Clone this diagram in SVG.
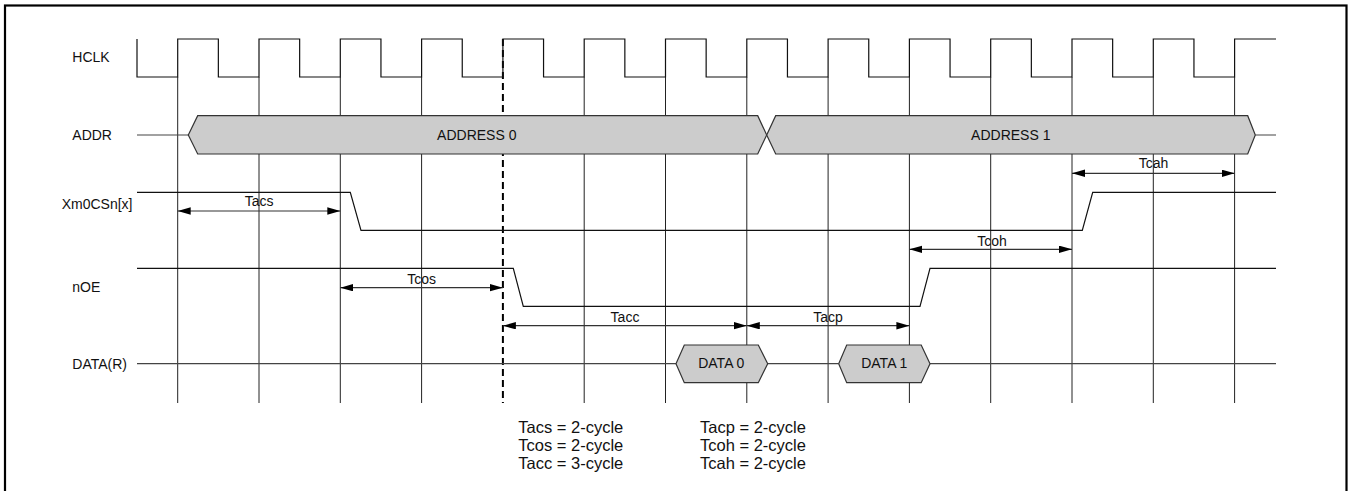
<svg xmlns="http://www.w3.org/2000/svg" width="1354" height="491" viewBox="0 0 1354 491">
<style>
text{font-family:"Liberation Sans",Arial,sans-serif;fill:#111}
.lbl{font-size:14px}
.tl{font-size:14px;text-anchor:middle}
.bus{font-size:14px;text-anchor:middle}
.note{font-size:16.5px}
.grid{stroke:#222;stroke-width:1;fill:none}
.sig{stroke:#111;stroke-width:1.2;fill:none}
.wire{stroke:#444;stroke-width:1.2;fill:none}
.hex{fill:#cccccc;stroke:#333;stroke-width:1.2}
.arr{stroke:#333;stroke-width:1.2;fill:none;marker-start:url(#ah);marker-end:url(#ah)}
</style>
<defs>
<marker id="ah" markerUnits="userSpaceOnUse" markerWidth="14" markerHeight="8" refX="13" refY="3.7" orient="auto-start-reverse">
<path d="M0,0 L13,3.7 L0,7.4 Z" fill="#000"/>
</marker>
</defs>
<rect x="5" y="5.5" width="1341.5" height="490" fill="none" stroke="#000" stroke-width="2.2"/>
<g id="grid">
<path class="grid" d="M177.7,77V403 M259,77V403 M340.3,77V403 M421.6,77V403 M584.2,77V403 M665.5,77V403 M746.8,77V403 M828.1,77V403 M909.4,77V403 M990.7,77V403 M1072,77V403 M1153.3,77V403 M1234.6,77V403"/>
</g>
<g id="marker-line">
<path d="M502.9,39 V403" stroke="#000" stroke-width="2" stroke-dasharray="7 4" fill="none"/>
</g>
<g id="hclk">
<text class="lbl" x="72.3" y="62.3">HCLK</text>
<path class="sig" d="M137,39 V77 H177.7 V39 H218.35 V77 H259 V39 H299.65 V77 H340.3 V39 H380.95 V77 H421.6 V39 H462.25 V77 H502.9 V39 H543.55 V77 H584.2 V39 H624.85 V77 H665.5 V39 H706.15 V77 H746.8 V39 H787.45 V77 H828.1 V39 H868.75 V77 H909.4 V39 H950.05 V77 H990.7 V39 H1031.35 V77 H1072 V39 H1112.65 V77 H1153.3 V39 H1193.95 V77 H1234.6 V39 H1276"/>
</g>
<g id="addr">
<text class="lbl" x="72.3" y="139.5">ADDR</text>
<path class="wire" d="M137,135 H188.3 M1255.3,135 H1276"/>
<path class="hex" d="M188.3,135 L197.7,115.7 H757.7 L766.7,135 L757.7,154 H197.7 Z"/>
<path class="hex" d="M766.7,135 L775.7,115.7 H1247.7 L1255.3,135 L1247.7,154 H775.7 Z"/>
<text class="bus" x="476.8" y="139.5">ADDRESS 0</text>
<text class="bus" x="1010.8" y="139.5">ADDRESS 1</text>
</g>
<g id="cs">
<text class="lbl" x="61.7" y="209.3">Xm0CSn[x]</text>
<path class="sig" d="M137,192.3 H350.3 L361,230.3 H1082.3 L1092.7,192.3 H1276"/>
</g>
<g id="noe">
<text class="lbl" x="72.3" y="291.7">nOE</text>
<path class="sig" d="M137,268.3 H513.3 L523.3,306.3 H920 L930,268.3 H1276"/>
</g>
<g id="data">
<text class="lbl" x="72.3" y="368.8">DATA(R)</text>
<path class="wire" d="M137,363.7 H676 M767.7,363.7 H838.7 M930,363.7 H1276"/>
<path class="hex" d="M676,363.7 L684.3,345 H758.3 L767.7,363.7 L758.3,382.7 H684.3 Z"/>
<path class="hex" d="M838.7,363.7 L846.7,345 H921.2 L930,363.7 L921.2,382.7 H846.7 Z"/>
<text class="bus" x="721.3" y="368.3">DATA 0</text>
<text class="bus" x="884.3" y="368.3">DATA 1</text>
</g>
<g id="connectors">
<path class="arr" d="M177.7,211 H340.3"/>
<path class="arr" d="M340.3,287.7 H502.9"/>
<path class="arr" d="M502.9,325.7 H746.8"/>
<path class="arr" d="M746.8,325.7 H909.4"/>
<path class="arr" d="M909.4,249.3 H1072"/>
<path class="arr" d="M1072,173.3 H1234.6"/>
</g>
<g id="timing-labels">
<text class="tl" x="259.2" y="206.3">Tacs</text>
<text class="tl" x="421.7" y="284">Tcos</text>
<text class="tl" x="625" y="322.3">Tacc</text>
<text class="tl" x="828" y="322.3">Tacp</text>
<text class="tl" x="992" y="245.7">Tcoh</text>
<text class="tl" x="1153.5" y="168.3">Tcah</text>
</g>
<g id="notes">
<text class="note" x="518.3" y="432.7">Tacs = 2-cycle</text>
<text class="note" x="518.3" y="450.7">Tcos = 2-cycle</text>
<text class="note" x="518.3" y="468.7">Tacc = 3-cycle</text>
<text class="note" x="700" y="432.7">Tacp = 2-cycle</text>
<text class="note" x="700" y="450.7">Tcoh = 2-cycle</text>
<text class="note" x="700" y="468.7">Tcah = 2-cycle</text>
</g>
</svg>
